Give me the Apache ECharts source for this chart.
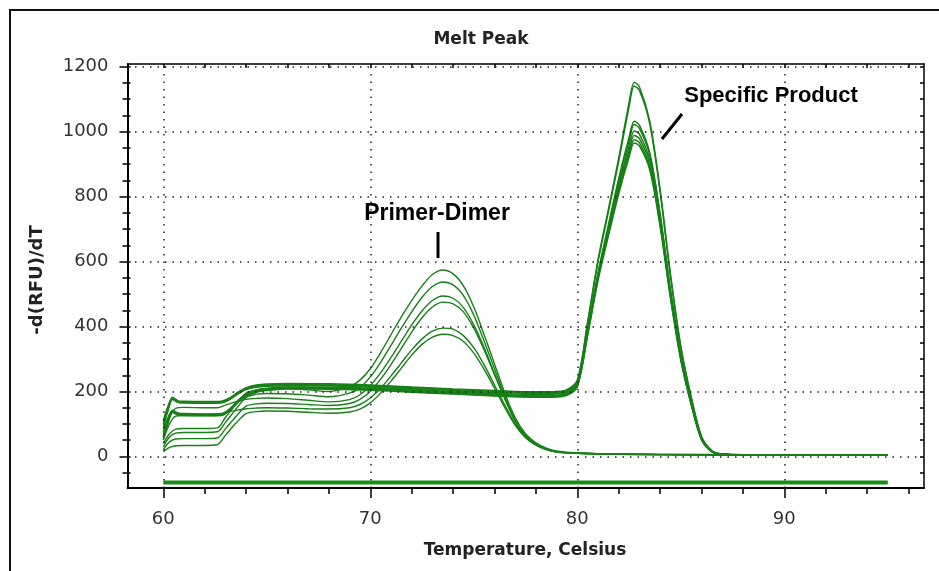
<!DOCTYPE html>
<html><head><meta charset="utf-8">
<script src="https://cdn.jsdelivr.net/npm/echarts@6/dist/echarts.min.js"></script>
<style>html,body{margin:0;padding:0;background:#fff}#c{width:939px;height:571px}</style>
</head><body><div id="c"></div>
<script>
// ---- data ----
const tempsDimer = [60, 60.3, 60.6, 61, 62, 62.6, 63, 63.5, 64, 64.5, 65, 66, 67, 68, 69, 69.5, 70, 70.5, 71, 71.5, 72, 72.5, 73, 73.5, 74, 74.5, 75, 75.5, 76, 76.5, 77, 77.5, 78, 78.5, 79, 80, 82, 86, 90, 95];
const dimer1 = [40, 70, 84, 86, 86, 88, 120, 160, 195, 205, 208, 208, 205, 200, 215, 235, 270, 320, 375, 430, 480, 525, 560, 574, 562, 525, 460, 375, 285, 195, 120, 70, 42, 26, 17, 11, 8, 6, 5, 5];
const dimer2 = [30, 60, 72, 74, 74, 76, 105, 145, 182, 192, 194, 193, 189, 184, 195, 212, 245, 290, 342, 395, 445, 490, 523, 537, 528, 495, 435, 355, 270, 185, 112, 64, 38, 23, 15, 10, 7, 5, 4, 4];
const dimer3 = [60, 120, 148, 151, 150, 150, 158, 168, 176, 179, 180, 178, 173, 168, 175, 190, 218, 258, 305, 355, 405, 448, 480, 494, 487, 458, 405, 335, 255, 178, 108, 62, 37, 22, 15, 10, 7, 5, 4, 4];
const dimer4 = [22, 45, 54, 55, 55, 57, 85, 122, 155, 162, 164, 163, 160, 157, 163, 176, 200, 238, 283, 333, 383, 427, 460, 475, 470, 445, 395, 328, 252, 177, 110, 64, 38, 23, 15, 10, 7, 5, 4, 4];
const dimer5 = [50, 100, 124, 126, 126, 127, 135, 142, 147, 149, 150, 149, 147, 146, 150, 160, 180, 210, 248, 288, 328, 362, 386, 395, 392, 372, 335, 282, 220, 158, 100, 60, 36, 22, 14, 10, 7, 5, 4, 4];
const dimer6 = [15, 28, 33, 34, 34, 36, 65, 102, 132, 138, 140, 139, 136, 133, 137, 146, 165, 195, 232, 272, 312, 345, 367, 376, 372, 354, 318, 268, 210, 150, 96, 58, 35, 21, 14, 10, 7, 5, 4, 4];

const tempsProduct = [60, 60.2, 60.45, 60.7, 61, 62, 62.8, 63.2, 63.6, 64, 64.5, 65, 66, 68, 70, 72, 74, 76, 78, 79, 79.5, 80, 80.5, 81, 81.5, 82, 82.5, 82.75, 83, 83.5, 84, 84.5, 85, 85.5, 86, 86.5, 87, 89.5];
const product1 = [110, 150, 182, 172, 170, 169, 170, 180, 198, 212, 220, 223, 225, 224, 220, 214, 208, 203, 199, 200, 206, 235, 415, 605, 760, 918, 1088, 1152, 1138, 1032, 822, 562, 340, 185, 62, 18, 8, 5];
const product2 = [95, 140, 178, 168, 166, 166, 167, 177, 195, 209, 217, 220, 222, 221, 218, 212, 206, 201, 197, 198, 203, 230, 408, 598, 752, 908, 1076, 1140, 1127, 1024, 815, 556, 336, 182, 60, 17, 8, 5];
const product3 = [85, 135, 176, 167, 166, 165, 166, 176, 194, 208, 216, 219, 221, 220, 216, 209, 203, 198, 194, 195, 200, 226, 390, 565, 712, 855, 982, 1032, 1020, 935, 748, 515, 312, 170, 56, 16, 7, 4];
const product4 = [70, 110, 140, 132, 130, 129, 130, 145, 172, 193, 205, 210, 214, 213, 210, 204, 198, 192, 187, 188, 193, 220, 385, 560, 706, 848, 972, 1022, 1010, 928, 742, 510, 310, 168, 55, 16, 7, 4];
const product5 = [60, 100, 138, 130, 128, 127, 128, 143, 170, 191, 203, 208, 212, 211, 208, 202, 196, 190, 185, 186, 191, 218, 380, 553, 696, 834, 955, 1002, 992, 912, 730, 502, 305, 165, 54, 15, 7, 4];
const product6 = [100, 145, 176, 167, 165, 164, 165, 175, 192, 206, 213, 216, 218, 217, 214, 207, 200, 195, 191, 192, 197, 224, 383, 550, 690, 826, 942, 988, 978, 900, 722, 497, 302, 164, 54, 15, 7, 4];
const product7 = [75, 115, 142, 134, 132, 131, 132, 146, 170, 189, 200, 205, 210, 209, 206, 200, 194, 188, 184, 185, 190, 216, 376, 546, 684, 816, 930, 975, 966, 890, 715, 492, 300, 162, 53, 15, 7, 4];
const product8 = [55, 95, 135, 128, 126, 125, 126, 141, 166, 186, 198, 203, 208, 207, 204, 198, 192, 186, 182, 183, 188, 214, 373, 541, 678, 808, 921, 965, 956, 882, 708, 488, 297, 160, 52, 15, 7, 4];

const baselineTemps = [60, 95];
const baselineValues = [-80, -80];

const xMajorTicks = [60, 70, 80, 90];
const xMinorTicks = [60, 62, 64, 66, 68, 70, 72, 74, 76, 78, 80, 82, 84, 86, 88, 90, 92, 94, 96];
const yMajorTicks = [0, 200, 400, 600, 800, 1000, 1200];
const yMinorTicks = [-50, 0, 50, 100, 150, 200, 250, 300, 350, 400, 450, 500, 550, 600, 650, 700, 750, 800, 850, 900, 950, 1000, 1050, 1100, 1150, 1200];

const titleText = 'Melt Peak';
const xName = 'Temperature, Celsius';
const yName = '-d(RFU)/dT';
const noteDimer = 'Primer-Dimer';
const noteProduct = 'Specific Product';

// ---- chart ----
const X0 = 58.27, X1 = 96.75, Y0 = -97, Y1 = 1208;
const G = { left: 127.5, right: 15, top: 64, bottom: 83 };
const black = '#000';
const curveColor = '#178017';
const labelFont = { fontFamily: 'DejaVu Sans', fontSize: 18, color: '#333' };
const plain = v => String(v);

function pairs(xs, ys) { return xs.map((x, i) => [x, ys[i]]); }

const dimers = [dimer1, dimer2, dimer3, dimer4, dimer5, dimer6];
const products = [product1, product2, product3, product4, product5, product6, product7, product8];

const series = [];
series.push({
  type: 'line', data: [], xAxisIndex: 0, yAxisIndex: 0, z: 1, silent: true,
  markLine: {
    silent: true, symbol: ['none', 'none'], label: { show: false }, animation: false,
    lineStyle: { color: '#222', type: [1.5, 6], width: 1.5 },
    data: xMajorTicks.map(v => ({ xAxis: v })).concat(yMajorTicks.map(v => ({ yAxis: v })))
  }
});
dimers.forEach(d => series.push({
  type: 'line', data: pairs(tempsDimer, d), symbol: 'none', smooth: 0.3, z: 3,
  lineStyle: { color: curveColor, width: 1.4 }
}));
products.forEach(d => series.push({
  type: 'line', data: pairs(tempsProduct, d), symbol: 'none', smooth: 0.3, z: 3,
  lineStyle: { color: curveColor, width: 1.5 }
}));
series.push({
  type: 'line', data: pairs(baselineTemps, baselineValues), symbol: 'none', z: 3,
  lineStyle: { color: '#168c16', width: 4 }
});

const noLine = { show: false, onZero: false };
const option = {
  animation: false,
  backgroundColor: '#fff',
  grid: [Object.assign({}, G), Object.assign({}, G), Object.assign({}, G)],
  xAxis: [
    { gridIndex: 0, type: 'value', min: X0, max: X1, position: 'bottom',
      axisLine: { show: true, onZero: false, lineStyle: { color: black, width: 2 } },
      axisTick: { show: true, customValues: xMinorTicks, length: 6, lineStyle: { color: black, width: 1.5 } },
      axisLabel: Object.assign({ customValues: xMajorTicks, margin: 22, formatter: plain }, labelFont),
      splitLine: { show: false } },
    { gridIndex: 0, type: 'value', min: X0, max: X1, position: 'top',
      axisLine: { show: true, onZero: false, lineStyle: { color: black, width: 1.5 } },
      axisTick: { show: true, inside: true, customValues: xMinorTicks, length: 4, lineStyle: { color: black, width: 1.5 } },
      axisLabel: { show: false }, splitLine: { show: false } },
    { gridIndex: 1, type: 'value', min: X0, max: X1, position: 'bottom',
      axisLine: noLine,
      axisTick: { show: true, customValues: xMajorTicks, length: 10, lineStyle: { color: black, width: 1.5 } },
      axisLabel: { show: false }, splitLine: { show: false } },
    { gridIndex: 2, type: 'value', min: X0, max: X1, show: false, axisLine: noLine }
  ],
  yAxis: [
    { gridIndex: 0, type: 'value', min: Y0, max: Y1, position: 'left',
      axisLine: { show: true, onZero: false, lineStyle: { color: black, width: 2 } },
      axisTick: { show: true, customValues: yMinorTicks, length: 5, lineStyle: { color: black, width: 1.5 } },
      axisLabel: Object.assign({ customValues: yMajorTicks, margin: 19, formatter: plain }, labelFont),
      splitLine: { show: false } },
    { gridIndex: 0, type: 'value', min: Y0, max: Y1, position: 'right',
      axisLine: { show: true, onZero: false, lineStyle: { color: black, width: 1.5 } },
      axisTick: { show: true, inside: true, customValues: yMinorTicks, length: 4, lineStyle: { color: black, width: 1.5 } },
      axisLabel: { show: false }, splitLine: { show: false } },
    { gridIndex: 1, type: 'value', min: Y0, max: Y1, position: 'left',
      axisLine: noLine,
      axisTick: { show: true, customValues: yMajorTicks, length: 8, lineStyle: { color: black, width: 1.5 } },
      axisLabel: { show: false }, splitLine: { show: false } },
    { gridIndex: 2, type: 'value', min: Y0, max: Y1, position: 'left',
      axisLine: noLine,
      axisTick: { show: true, inside: true, customValues: yMinorTicks, length: 3, lineStyle: { color: black, width: 1.5 } },
      axisLabel: { show: false }, splitLine: { show: false } }
  ],
  series: series,
  graphic: [
    { type: 'rect', shape: { x: 10, y: 10, width: 1000, height: 1000 }, style: { fill: 'none', stroke: '#111', lineWidth: 2 }, silent: true },
    { type: 'text', x: 481, y: 40, style: { text: titleText, font: 'bold 17px "DejaVu Sans"', fill: '#222', align: 'center', verticalAlign: 'middle' } },
    { type: 'text', x: 525, y: 551, style: { text: xName, font: 'bold 17px "DejaVu Sans"', fill: '#222', align: 'center', verticalAlign: 'middle' } },
    { type: 'text', x: 37, y: 280, rotation: Math.PI / 2, style: { text: yName, font: 'bold 18px "DejaVu Sans"', fill: '#222', align: 'center', verticalAlign: 'middle' } },
    { type: 'text', x: 437, y: 214, style: { text: noteDimer, font: 'bold 23px "Liberation Sans", Arial', fill: '#000', align: 'center', verticalAlign: 'middle' } },
    { type: 'line', shape: { x1: 438, y1: 232, x2: 438, y2: 258 }, style: { stroke: '#000', lineWidth: 3 } },
    { type: 'text', x: 771, y: 96, style: { text: noteProduct, font: 'bold 22px "Liberation Sans", Arial', fill: '#000', align: 'center', verticalAlign: 'middle' } },
    { type: 'line', shape: { x1: 662, y1: 139, x2: 682, y2: 114 }, style: { stroke: '#000', lineWidth: 3 } }
  ]
};
const chart = echarts.init(document.getElementById('c'), null, { renderer: 'canvas' });
chart.setOption(option);
</script>
</body></html>
